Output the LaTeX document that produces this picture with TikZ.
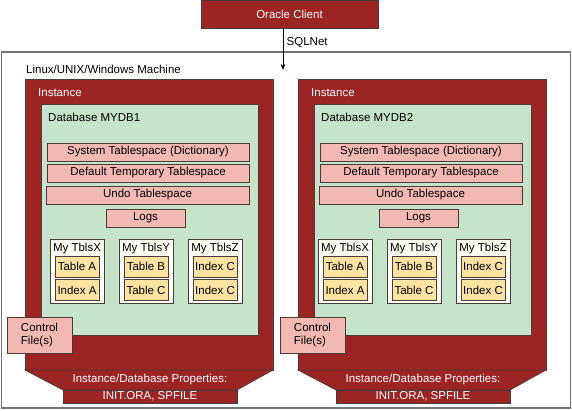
\documentclass[tikz,border=0pt]{standalone}
\usepackage{fontspec}
\setmainfont{Liberation Sans}
\usetikzlibrary{arrows.meta}
\definecolor{ored}{HTML}{9C2423}
\definecolor{ogreen}{HTML}{C6E4C9}
\definecolor{opink}{HTML}{F2B9B3}
\definecolor{otan}{HTML}{FCE3A2}
\definecolor{ocream}{HTML}{FFFEF6}
\definecolor{oline}{HTML}{4A3A38}
\begin{document}
\begin{tikzpicture}[x=1pt,y=-1pt,
  every node/.style={font=\fontsize{11.5}{13.3}\selectfont, inner sep=0pt},
  redbox/.style={draw=oline, line width=0.7pt, fill=ored, text=white},
  greenbox/.style={draw=oline, line width=0.7pt, fill=ogreen},
  pinkbox/.style={draw=oline, line width=0.7pt, fill=opink},
  tanbox/.style={draw=oline, line width=0.7pt, fill=otan},
  tblsbox/.style={draw=oline, line width=0.7pt, fill=ocream},
  lbl/.style={anchor=west},
  wlbl/.style={anchor=west, text=white},
]
\useasboundingbox (0,0) rectangle (572,410);
% machine
\node[draw=black!55, line width=1.2pt, fill=white, minimum width=569pt, minimum height=356pt] (machine) at (286,230) {};
\node[lbl] (machinelbl) at (26,69) {Linux/UNIX/Windows Machine};
% client
\node[redbox, minimum width=177pt, minimum height=28pt] (client) at (289.5,14) {Oracle Client};
\coordinate (sqlend) at (283,70);
\draw[line width=0.7pt, -{Stealth[length=6pt,width=4.5pt]}] (client.south -| sqlend) -- (sqlend);
\node[lbl] (sqlnet) at (286.5,43) {SQLNet};
% instances
\foreach \i/\dx/\tx/\db in {1/0/0/MYDB1, 2/273/268/MYDB2}{
  \begin{scope}[xshift=\dx pt]
    \node[redbox, minimum width=248pt, minimum height=291pt] (inst\i) at (149,224.5) {};
    \draw[redbox] (25,370) -- (273,370) -- (237,390) -- (63,390) -- cycle;
    \node[redbox, minimum width=174pt, minimum height=13pt] (init\i) at (150,396.5) {INIT.ORA, SPFILE};
    \node[text=white] (props\i) at (150,380) {Instance/Database Properties:};
    \node[wlbl] (instlbl\i) at (38,93) {Instance};
    \node[greenbox, minimum width=217pt, minimum height=231pt] (db\i) at (149.5,219.5) {};
    \node[lbl] (dblbl\i) at (48,117) {Database \db};
    \node[pinkbox, minimum width=202pt, minimum height=18pt] (sys\i) at (148,152) {System Tablespace (Dictionary)};
    \node[pinkbox, minimum width=202pt, minimum height=18pt] (temp\i) at (148,173) {Default Temporary Tablespace};
    \node[pinkbox, minimum width=203pt, minimum height=18pt] (undo\i) at (147.5,195) {Undo Tablespace};
    \node[pinkbox, minimum width=79pt, minimum height=18pt] (logs\i) at (145.5,218) {Logs};
    \node[pinkbox, minimum width=65pt, minimum height=36pt, align=left] (ctrl\i) at (39.5,335) {Control\\File(s)};
  \end{scope}
  \begin{scope}[xshift=\tx pt]
    \foreach \k/\cx/\ta/\tb in {X/77/Table A/Index A, Y/146/Table B/Table C, Z/215/Index C/Index C}{
      \node[tblsbox, minimum width=54pt, minimum height=64pt] (tbls\k\i) at (\cx,271) {};
      \node (tblslbl\k\i) at (\cx,248.5) {My Tbls\k};
      \node[tanbox, minimum width=44pt, minimum height=21pt] (ta\k\i) at (\cx,266.5) {\ta};
      \node[tanbox, minimum width=44pt, minimum height=21pt] (tb\k\i) at (\cx,290) {\tb};
    }
  \end{scope}
}
\end{tikzpicture}
\end{document}
